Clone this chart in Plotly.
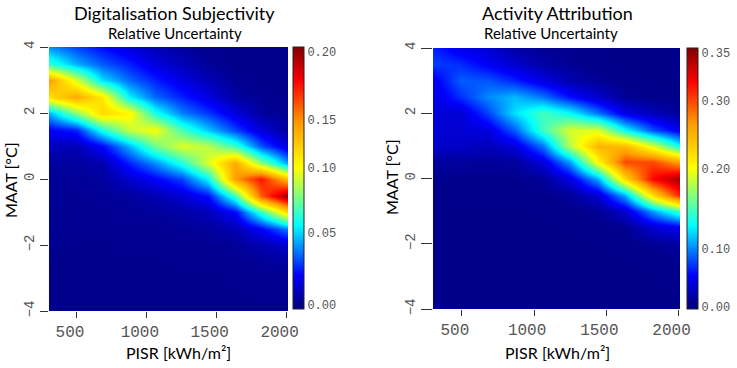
import numpy as np
import plotly.graph_objects as go

W, H = 737, 368

# ---------------- data ----------------
pisr = [300, 490, 680, 870, 1060, 1250, 1440, 1630, 1820, 2010]
maat = [-4, -3.5, -3, -2.5, -2, -1.5, -1, -0.5, 0, 0.5, 1, 1.5, 2, 2.5, 3, 3.5, 4]

# Digitalisation Subjectivity: relative uncertainty (rows = maat, cols = pisr)
digit_unc = [
    [0.001, 0.001, 0.001, 0.001, 0.001, 0.001, 0.001, 0.001, 0.001, 0.001],
    [0.001, 0.001, 0.001, 0.001, 0.001, 0.001, 0.001, 0.001, 0.0015, 0.0015],
    [0.001, 0.001, 0.001, 0.001, 0.001, 0.001, 0.001, 0.0015, 0.002, 0.002],
    [0.001, 0.001, 0.001, 0.001, 0.001, 0.0015, 0.0015, 0.002, 0.003, 0.004],
    [0.002, 0.001, 0.001, 0.002, 0.002, 0.002, 0.002, 0.003, 0.007, 0.012],
    [0.002, 0.002, 0.002, 0.002, 0.002, 0.0025, 0.004, 0.0075, 0.02, 0.038],
    [0.002, 0.002, 0.002, 0.003, 0.0035, 0.0055, 0.009, 0.021, 0.065, 0.118],
    [0.003, 0.002, 0.003, 0.004, 0.0075, 0.013, 0.022, 0.066, 0.16, 0.2],
    [0.003, 0.003, 0.004, 0.012, 0.02, 0.03, 0.056, 0.145, 0.175, 0.13],
    [0.004, 0.004, 0.007, 0.025, 0.04, 0.062, 0.094, 0.14, 0.081, 0.042],
    [0.01, 0.008, 0.021, 0.045, 0.075, 0.095, 0.088, 0.066, 0.032, 0.014],
    [0.02, 0.025, 0.06, 0.09, 0.1, 0.068, 0.048, 0.03, 0.014, 0.004],
    [0.045, 0.08, 0.118, 0.105, 0.06, 0.038, 0.028, 0.015, 0.004, 0.002],
    [0.115, 0.14, 0.11, 0.055, 0.035, 0.025, 0.016, 0.005, 0.002, 0.001],
    [0.145, 0.094, 0.052, 0.035, 0.025, 0.016, 0.008, 0.002, 0.001, 0.0005],
    [0.065, 0.045, 0.033, 0.025, 0.015, 0.009, 0.003, 0.001, 0.0005, 0.0005],
    [0.04, 0.03, 0.022, 0.015, 0.008, 0.004, 0.001, 0.0005, 0.0005, 0.0005],
]

# Activity Attribution: relative uncertainty (rows = maat, cols = pisr)
activity_unc = [
    [0.001, 0.001, 0.001, 0.001, 0.001, 0.001, 0.001, 0.001, 0.001, 0.001],
    [0.001, 0.001, 0.001, 0.001, 0.001, 0.001, 0.001, 0.001, 0.001, 0.002],
    [0.001, 0.001, 0.001, 0.001, 0.001, 0.001, 0.001, 0.001, 0.002, 0.003],
    [0.001, 0.001, 0.001, 0.001, 0.001, 0.001, 0.0015, 0.002, 0.003, 0.006],
    [0.002, 0.001, 0.001, 0.001, 0.0015, 0.0015, 0.002, 0.003, 0.008, 0.014],
    [0.002, 0.002, 0.002, 0.002, 0.002, 0.002, 0.003, 0.007, 0.035, 0.05],
    [0.002, 0.002, 0.002, 0.002, 0.002, 0.004, 0.008, 0.033, 0.106, 0.15],
    [0.003, 0.003, 0.003, 0.003, 0.004, 0.01, 0.036, 0.11, 0.225, 0.313],
    [0.005, 0.005, 0.004, 0.005, 0.01, 0.041, 0.108, 0.225, 0.32, 0.346],
    [0.012, 0.012, 0.01, 0.012, 0.039, 0.105, 0.205, 0.3, 0.3, 0.26],
    [0.03, 0.03, 0.025, 0.039, 0.094, 0.18, 0.25, 0.245, 0.19, 0.131],
    [0.036, 0.035, 0.04, 0.086, 0.147, 0.19, 0.19, 0.13, 0.08, 0.045],
    [0.038, 0.035, 0.076, 0.122, 0.147, 0.13, 0.092, 0.043, 0.024, 0.01],
    [0.04, 0.068, 0.1, 0.112, 0.094, 0.058, 0.032, 0.01, 0.005, 0.002],
    [0.045, 0.085, 0.083, 0.066, 0.042, 0.02, 0.01, 0.003, 0.001, 0.0005],
    [0.075, 0.068, 0.05, 0.032, 0.016, 0.008, 0.003, 0.001, 0.0005, 0.0],
    [0.065, 0.045, 0.035, 0.015, 0.006, 0.004, 0.001, 0.0005, 0.0, 0.0],
]

# colour-bar tick labels and where they sit along each (non-linear) legend bar
digit_ticks = [0.00, 0.05, 0.10, 0.15, 0.20]
digit_tick_pos = [0.015, 0.29, 0.538, 0.721, 0.981]
activity_ticks = [0.00, 0.10, 0.20, 0.30, 0.35]
activity_tick_pos = [0.01, 0.232, 0.538, 0.796, 0.981]

x_ticks = [500, 1000, 1500, 2000]
y_ticks = [-4, -2, 0, 2, 4]
y_tick_text = ["\u22124", "\u22122", "0", "2", "4"]

# ---------------- styling ----------------
jet = [
    [0.0, "#00008A"], [0.02, "#00008C"], [0.13, "#0000FF"], [0.32, "#00FFFF"],
    [0.54, "#FFFF00"], [0.71, "#FF9A00"], [0.87, "#FF0000"], [1.0, "#800000"],
]
MONO = "Liberation Mono, Courier New, monospace"
SANS = "Lato, Open Sans, sans-serif"
GREY = "#555555"


def px_x(p):
    return p / W


def px_y(p):
    return 1 - p / H


def to_bar(z, vals, pos):
    return np.interp(np.asarray(z, dtype=float), vals, pos)


fig = go.Figure()

fig.add_trace(go.Heatmap(
    x=pisr, y=maat, z=to_bar(digit_unc, digit_ticks, digit_tick_pos),
    zmin=0, zmax=1, colorscale=jet, zsmooth="best",
    xaxis="x", yaxis="y", hoverinfo="skip",
    colorbar=dict(
        x=px_x(293), xanchor="left", xpad=0,
        y=px_y(309), yanchor="bottom", ypad=0,
        len=262, lenmode="pixels", thickness=11, thicknessmode="pixels",
        outlinewidth=1, outlinecolor="#222222",
        tickvals=digit_tick_pos, ticktext=[f"{v:.2f}" for v in digit_ticks],
        ticks="", tickfont=dict(family=MONO, size=12, color=GREY),
    ),
))

fig.add_trace(go.Heatmap(
    x=pisr, y=maat, z=to_bar(activity_unc, activity_ticks, activity_tick_pos),
    zmin=0, zmax=1, colorscale=jet, zsmooth="best",
    xaxis="x2", yaxis="y2", hoverinfo="skip",
    colorbar=dict(
        x=px_x(687), xanchor="left", xpad=0,
        y=px_y(309), yanchor="bottom", ypad=0,
        len=261, lenmode="pixels", thickness=11, thicknessmode="pixels",
        outlinewidth=1, outlinecolor="#222222",
        tickvals=activity_tick_pos, ticktext=[f"{v:.2f}" for v in activity_ticks],
        ticks="", tickfont=dict(family=MONO, size=12, color=GREY),
    ),
))

xax = dict(range=[300, 2010], tickvals=x_ticks, ticks="outside", ticklen=6,
           tickcolor="#333333", showgrid=False, zeroline=False, showline=False,
           tickfont=dict(family=MONO, size=16, color=GREY), ticklabelshift=-7)
yax = dict(range=[-4, 4], tickvals=y_ticks, ticktext=y_tick_text, ticks="outside",
           ticklen=8, tickcolor="#333333", showgrid=False, zeroline=False,
           showline=False, tickangle=-90,
           tickfont=dict(family=MONO, size=14, color=GREY))

fig.update_layout(
    width=W, height=H, margin=dict(l=0, r=0, t=0, b=0, autoexpand=False),
    paper_bgcolor="white", plot_bgcolor="white", showlegend=False,
    xaxis=dict(xax, domain=[px_x(49), px_x(288)], anchor="y"),
    yaxis=dict(yax, domain=[px_y(311), px_y(47)], anchor="x"),
    xaxis2=dict(xax, domain=[px_x(433), px_x(680)], anchor="y2"),
    yaxis2=dict(yax, domain=[px_y(309), px_y(48)], anchor="x2", ticklen=11),
)

ann = [
    ("Digitalisation Subjectivity", 174, 13, 18, 0),
    ("Relative Uncertainty", 175, 33, 15, 0),
    ("Activity Attribution", 557, 13, 18, 0),
    ("Relative Uncertainty", 551, 33, 15, 0),
    ("PISR [kWh/m\u00b2]", 178, 352, 16, 0),
    ("PISR [kWh/m\u00b2]", 557, 352, 16, 0),
    ("MAAT [\u00b0C]", 11, 180, 16, -90),
    ("MAAT [\u00b0C]", 391, 177, 16, -90),
]
for text, xp, yp, size, ang in ann:
    fig.add_annotation(text=text, x=px_x(xp), y=px_y(yp), xref="paper", yref="paper",
                       xanchor="center", yanchor="middle", showarrow=False,
                       textangle=ang, font=dict(family=SANS, size=size, color="black"))

fig.write_html(
    "out.html",
    config={"displayModeBar": False},
    post_script="document.body.style.margin='0';document.body.style.overflow='hidden';",
)
